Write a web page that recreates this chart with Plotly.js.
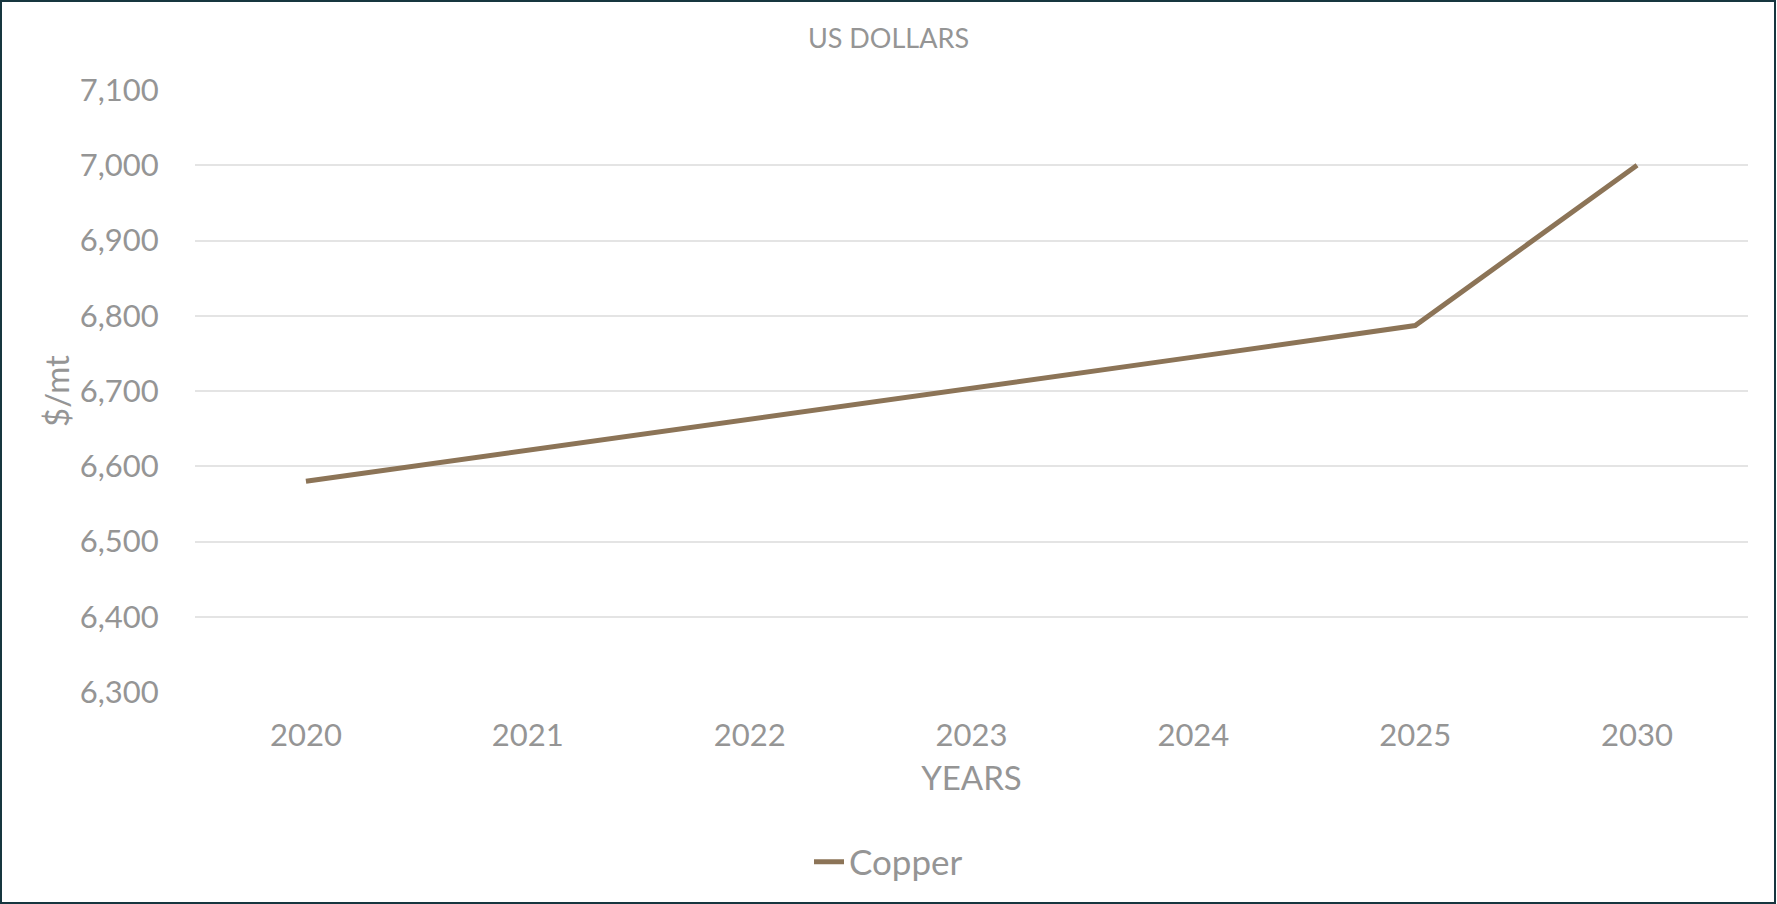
<!DOCTYPE html>
<html>
<head>
<meta charset="utf-8">
<script src="https://cdn.plot.ly/plotly-3.0.1.min.js"></script>
<style>
  html, body { margin: 0; padding: 0; background: #ffffff; }
  #chart { width: 1777px; height: 904px; }
</style>
</head>
<body>
<div id="chart"></div>
<script>
const years = ["2020", "2021", "2022", "2023", "2024", "2025", "2030"];
const copper = [6580, 6621, 6662, 6703, 6745, 6787, 7000];
const yTicks = [6300, 6400, 6500, 6600, 6700, 6800, 6900, 7000, 7100];
const yTickLabels = ["6,300", "6,400", "6,500", "6,600", "6,700", "6,800", "6,900", "7,000", "7,100"];

const fontFamily = "'Century Gothic', Lato, 'Open Sans', sans-serif";
const grey = "#959595";

const trace = {
  type: "scatter",
  mode: "lines",
  name: "Copper",
  x: years,
  y: copper,
  line: { color: "#8c7457", width: 5 },
  hoverinfo: "x+y"
};

const layout = {
  width: 1777,
  height: 904,
  paper_bgcolor: "#ffffff",
  plot_bgcolor: "#ffffff",
  margin: { l: 195, r: 29, t: 90, b: 212, pad: 0 },
  font: { family: fontFamily, color: grey },
  title: {
    text: "US DOLLARS",
    font: { family: fontFamily, size: 27, color: grey },
    xref: "container", x: 0.5, xanchor: "center",
    yref: "container", y: 1 - 39 / 904, yanchor: "middle"
  },
  xaxis: {
    type: "category",
    range: [-0.5, years.length - 0.5],
    showgrid: false,
    zeroline: false,
    showline: false,
    ticks: "outside",
    ticklen: 16,
    tickcolor: "rgba(0,0,0,0)",
    tickfont: { family: fontFamily, size: 31, color: grey },
    title: {
      text: "YEARS",
      font: { family: fontFamily, size: 33, color: grey },
      standoff: 14
    }
  },
  yaxis: {
    range: [6300, 7100],
    tickvals: yTicks,
    ticktext: yTickLabels,
    showgrid: true,
    gridcolor: "#e4e4e4",
    gridwidth: 1.5,
    zeroline: false,
    showline: false,
    ticks: "outside",
    ticklen: 29,
    tickcolor: "rgba(0,0,0,0)",
    tickfont: { family: fontFamily, size: 31, color: grey },
    title: {
      text: "$/mt",
      font: { family: fontFamily, size: 33, color: grey },
      standoff: 0
    }
  },
  showlegend: true,
  legend: {
    orientation: "h",
    xref: "container", x: 0.5, xanchor: "center",
    yref: "container", y: 1 - 862 / 904, yanchor: "middle",
    font: { family: fontFamily, size: 35, color: grey },
    bgcolor: "rgba(0,0,0,0)"
  }
};

Plotly.newPlot("chart", [trace], layout, { displayModeBar: false }).then(function () {
  const svg = document.querySelector("#chart .main-svg");
  const ns = "http://www.w3.org/2000/svg";
  const rect = document.createElementNS(ns, "rect");
  rect.setAttribute("x", 1);
  rect.setAttribute("y", 1);
  rect.setAttribute("width", 1774);
  rect.setAttribute("height", 902);
  rect.setAttribute("fill", "none");
  rect.setAttribute("stroke", "#17363f");
  rect.setAttribute("stroke-width", 2);
  svg.appendChild(rect);
});
</script>
</body>
</html>
